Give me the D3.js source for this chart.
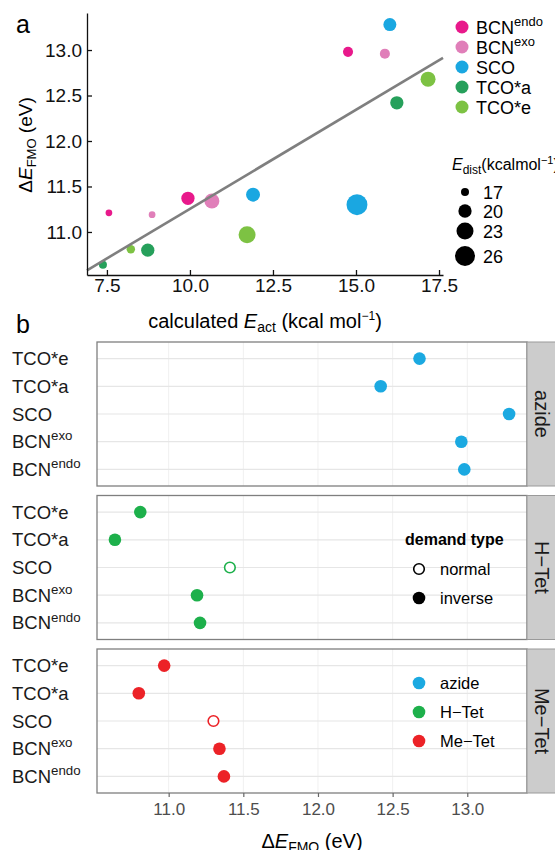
<!DOCTYPE html>
<html>
<head>
<meta charset="utf-8">
<script src="https://cdn.jsdelivr.net/npm/d3@7"></script>
<style>
  body { margin: 0; background: #fff; }
  svg { font-family: "Liberation Sans", Arial, Helvetica, sans-serif; }
</style>
</head>
<body>
<svg></svg>
<script>
const size = {w: 555, h: 850};
const svg = d3.select('svg').attr('width', size.w).attr('height', size.h);

// dienophiles (colour groups in a, rows in b)
const dienophiles = ['BCNendo', 'BCNexo', 'SCO', 'TCO*a', 'TCO*e'];
const dienoBase = ['BCN', 'BCN', 'SCO', 'TCO*a', 'TCO*e'];
const dienoSup = ['endo', 'exo', '', '', ''];
const dienoColors = ['#e8198b', '#e07fb9', '#1aa7e1', '#26a05b', '#7dc243'];

// dipoles (facets in b)
const dipoles = ['azide', 'H−Tet', 'Me−Tet'];
const dipoleColors = ['#1ba9e1', '#1db04b', '#ec2227'];

// values per dipole, in dienophile order
const azideEact = [14.76, 15.87, 16.02, 16.23, 17.17];
const azideDE = [12.98, 12.96, 13.28, 12.42, 12.68];
const azideEdist = [18.0, 18.0, 19.8, 20.0, 21.3];
const azideDemand = ['inverse', 'inverse', 'inverse', 'inverse', 'inverse'];

const hTetEact = [7.56, 8.86, 11.90, 7.38, 8.22];
const hTetDE = [11.21, 11.19, 11.41, 10.64, 10.81];
const hTetEdist = [16.5, 16.5, 20.5, 17.0, 17.2];
const hTetDemand = ['inverse', 'inverse', 'normal', 'inverse', 'inverse'];

const meTetEact = [9.94, 10.66, 15.03, 8.73, 11.72];
const meTetDE = [11.37, 11.34, 11.30, 10.80, 10.97];
const meTetEdist = [20.0, 21.3, 27.0, 20.0, 23.0];
const meTetDemand = ['inverse', 'inverse', 'normal', 'inverse', 'inverse'];

const sizeBreaks = [17, 20, 23, 26];
const xTicksA = [7.5, 10.0, 12.5, 15.0, 17.5];
const yTicksA = [11.0, 11.5, 12.0, 12.5, 13.0];
const xTicksB = [11.0, 11.5, 12.0, 12.5, 13.0];

// build rows
const eactSets = [azideEact, hTetEact, meTetEact];
const deSets = [azideDE, hTetDE, meTetDE];
const edistSets = [azideEdist, hTetEdist, meTetEdist];
const demandSets = [azideDemand, hTetDemand, meTetDemand];
let rows = [];
dipoles.forEach((dp, i) => {
    dienophiles.forEach((dn, j) => {
        rows.push({dipole: dp, di: i, dieno: dn, dj: j,
            eact: eactSets[i][j], de: deSets[i][j], edist: edistSets[i][j], demand: demandSets[i][j]});
    });
});

// helper: text with optional sub/superscript pieces
function richText(sel, parts) {
    parts.forEach(p => {
        let t = sel.append('tspan').text(p.t);
        if (p.italic) t.attr('font-style', 'italic');
        if (p.sub) t.attr('font-size', p.fs).attr('dy', p.dy);
        if (p.back) t.attr('dy', p.back);
    });
    return sel;
}

function dienoLabel(sel, j, fs) {
    sel.append('tspan').text(dienoBase[j]);
    if (dienoSup[j]) {
        sel.append('tspan').text(dienoSup[j]).attr('font-size', fs * 0.72).attr('dy', -fs * 0.42);
    }
}

// ---------------- PANEL a ----------------
const gA = svg.append('g');
const xA = d3.scaleLinear().domain([6.9, 17.62]).range([87, 443]);
const yA = d3.scaleLinear().domain([10.527, 13.407]).range([275, 13]);
const rA = d3.scaleRadial().domain([17, 26]).range([4, 10]);

gA.append('text').attr('x', 16).attr('y', 33).attr('font-size', 25).text('a');

// regression line (least squares over all points)
const mx = d3.mean(rows, d => d.eact), my = d3.mean(rows, d => d.de);
const slope = d3.sum(rows, d => (d.eact - mx) * (d.de - my)) / d3.sum(rows, d => (d.eact - mx) ** 2);
const icpt = my - slope * mx;

gA.append('g').selectAll('circle')
    .data(rows)
    .join('circle')
    .attr('cx', d => xA(d.eact))
    .attr('cy', d => yA(d.de))
    .attr('r', d => rA(d.edist))
    .attr('fill', d => dienoColors[d.dj]);

const lineX = xA.domain();
gA.append('line')
    .attr('x1', xA(lineX[0])).attr('y1', yA(icpt + slope * lineX[0]))
    .attr('x2', xA(lineX[1])).attr('y2', yA(icpt + slope * lineX[1]))
    .attr('stroke', '#7f7f7f').attr('stroke-width', 2.6);

// axes, ticks pointing inward
const axA = gA.append('g').attr('transform', 'translate(0,275)')
    .call(d3.axisBottom(xA).tickValues(xTicksA).tickFormat(d3.format('.1f')).tickSizeInner(-5).tickSizeOuter(0).tickPadding(3));
const ayA = gA.append('g').attr('transform', 'translate(87,0)')
    .call(d3.axisLeft(yA).tickValues(yTicksA).tickFormat(d3.format('.1f')).tickSizeInner(-5).tickSizeOuter(0).tickPadding(5));
[axA, ayA].forEach(a => {
    a.selectAll('path, line').attr('stroke', '#111').attr('stroke-width', 1.3);
    a.selectAll('text').attr('font-size', 19).attr('fill', '#111').attr('font-family', null);
});

gA.append('text').attr('transform', 'translate(32,145) rotate(-90)')
    .attr('text-anchor', 'middle').attr('font-size', 19)
    .call(richText, [{t: 'Δ'}, {t: 'E', italic: true}, {t: 'FMO', sub: true, fs: 13, dy: 4}, {t: ' (eV)', back: -4}]);

gA.append('text').attr('x', 265).attr('y', 328)
    .attr('text-anchor', 'middle').attr('font-size', 20)
    .call(richText, [{t: 'calculated '}, {t: 'E', italic: true}, {t: 'act', sub: true, fs: 14, dy: 4},
        {t: ' (kcal mol', back: -4}, {t: '−1', sub: true, fs: 12, dy: -8}, {t: ')', back: 8}]);

// colour legend
const legA = gA.append('g');
dienophiles.forEach((dn, j) => {
    let yy = 27 + j * 20;
    legA.append('circle').attr('cx', 462).attr('cy', yy).attr('r', 6.5).attr('fill', dienoColors[j]);
    legA.append('text').attr('x', 476).attr('y', yy + 6.5).attr('font-size', 18).call(dienoLabel, j, 18);
});

// size legend
gA.append('text').attr('x', 452).attr('y', 170).attr('font-size', 16)
    .call(richText, [{t: 'E', italic: true}, {t: 'dist', sub: true, fs: 12, dy: 4},
        {t: '(kcalmol', back: -4}, {t: '−1', sub: true, fs: 11, dy: -6}, {t: ')', back: 6}]);
const sizeY = [192, 211, 231, 256];
sizeBreaks.forEach((s, i) => {
    gA.append('circle').attr('cx', 465).attr('cy', sizeY[i]).attr('r', rA(s)).attr('fill', '#000');
    gA.append('text').attr('x', 483).attr('y', sizeY[i] + 6.5).attr('font-size', 18).text(s);
});

// ---------------- PANEL b ----------------
const gB = svg.append('g');
gB.append('text').attr('x', 16).attr('y', 333).attr('font-size', 25).text('b');

const xB = d3.scaleLinear().domain([10.52, 13.40]).range([97, 527]);
const panelTop = [342, 495.5, 649];
const panelH = 144;
const rowOrder = dienophiles.slice().reverse();

dipoles.forEach((dp, i) => {
    const top = panelTop[i];
    const yB = d3.scalePoint().domain(rowOrder).range([top, top + panelH]).padding(0.6);
    const pg = gB.append('g');

    pg.append('rect').attr('x', 97).attr('y', top).attr('width', 430).attr('height', panelH).attr('fill', '#fff');

    // grid
    pg.append('g').selectAll('line.v').data(xTicksB).join('line')
        .attr('x1', d => xB(d)).attr('x2', d => xB(d))
        .attr('y1', top).attr('y2', top + panelH)
        .attr('stroke', '#f0f0f0').attr('stroke-width', 1);
    pg.append('g').selectAll('line.h').data(rowOrder).join('line')
        .attr('x1', 97).attr('x2', 527)
        .attr('y1', d => yB(d)).attr('y2', d => yB(d))
        .attr('stroke', '#e6e6e6').attr('stroke-width', 1.2);

    // points
    const pts = rows.filter(d => d.di === i);
    pg.append('g').selectAll('circle').data(pts).join('circle')
        .attr('cx', d => xB(d.de))
        .attr('cy', d => yB(d.dieno))
        .attr('r', d => d.demand === 'normal' ? 5.3 : 6.3)
        .attr('fill', d => d.demand === 'normal' ? '#fff' : dipoleColors[i])
        .attr('stroke', d => d.demand === 'normal' ? dipoleColors[i] : 'none')
        .attr('stroke-width', 1.6);

    pg.append('rect').attr('x', 97).attr('y', top).attr('width', 430).attr('height', panelH)
        .attr('fill', 'none').attr('stroke', '#7f7f7f').attr('stroke-width', 1.3);

    // strip
    pg.append('rect').attr('x', 527).attr('y', top).attr('width', 30).attr('height', panelH)
        .attr('fill', '#cccccc').attr('stroke', '#9a9a9a').attr('stroke-width', 1);
    pg.append('text').attr('transform', `translate(535,${top + panelH / 2}) rotate(90)`)
        .attr('text-anchor', 'middle').attr('font-size', 20).attr('fill', '#1a1a1a').text(dp);

    // row labels (left aligned)
    rowOrder.forEach(dn => {
        const j = dienophiles.indexOf(dn);
        pg.append('text').attr('x', 12).attr('y', yB(dn) + 6.5).attr('font-size', 18.5).attr('fill', '#1a1a1a')
            .call(dienoLabel, j, 18.5);
    });
});

// bottom axis of panel b
const axB = gB.append('g').attr('transform', `translate(0,${panelTop[2] + panelH})`)
    .call(d3.axisBottom(xB).tickValues(xTicksB).tickFormat(d3.format('.1f')).tickSizeInner(4).tickSizeOuter(0).tickPadding(6));
axB.select('.domain').remove();
axB.selectAll('line').attr('stroke', '#666').attr('stroke-width', 1.2);
axB.selectAll('text').attr('font-size', 17).attr('fill', '#4d4d4d').attr('font-family', null);

gB.append('text').attr('x', 312).attr('y', 848).attr('text-anchor', 'middle').attr('font-size', 20)
    .call(richText, [{t: 'Δ'}, {t: 'E', italic: true}, {t: 'FMO', sub: true, fs: 14, dy: 4}, {t: ' (eV)', back: -4}]);

// demand type legend (inside H-Tet panel)
const legD = gB.append('g');
legD.append('text').attr('x', 405).attr('y', 545).attr('font-size', 16).attr('font-weight', 'bold').text('demand type');
legD.append('circle').attr('cx', 419).attr('cy', 569).attr('r', 5.3).attr('fill', '#fff').attr('stroke', '#000').attr('stroke-width', 1.6);
legD.append('text').attr('x', 440).attr('y', 575).attr('font-size', 16.5).text('normal');
legD.append('circle').attr('cx', 419).attr('cy', 598).attr('r', 6.3).attr('fill', '#000');
legD.append('text').attr('x', 440).attr('y', 604).attr('font-size', 16.5).text('inverse');

// dipole colour legend (inside Me-Tet panel)
const legC = gB.append('g');
dipoles.forEach((dp, i) => {
    let yy = 683 + i * 29;
    legC.append('circle').attr('cx', 419).attr('cy', yy).attr('r', 6.3).attr('fill', dipoleColors[i]);
    legC.append('text').attr('x', 440).attr('y', yy + 6).attr('font-size', 16.5).text(dp);
});
</script>
</body>
</html>
